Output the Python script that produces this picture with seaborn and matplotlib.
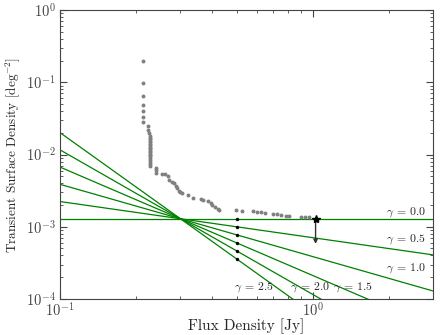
import seaborn as sns
import pandas as pd
import numpy as np
import matplotlib.pyplot as plt

# transient surface density limits
flux = [0.2135, 0.2135, 0.2135, 0.2135, 0.2135, 0.2135, 0.2135,
        0.224, 0.224, 0.225,
        0.227, 0.227, 0.227, 0.227, 0.227, 0.227, 0.227, 0.227, 0.227, 0.227,
        0.227, 0.227, 0.227, 0.227, 0.227, 0.227, 0.227, 0.227, 0.227, 0.227,
        0.240, 0.240, 0.240,
        0.2533, 0.261, 0.2667, 0.2707, 0.2775, 0.2816, 0.2878, 0.2912, 0.2958,
        0.2994, 0.304, 0.320, 0.3362, 0.3617, 0.3684, 0.3842, 0.3963, 0.401,
        0.4095, 0.4209, 0.4276, 0.4993, 0.5275, 0.5833, 0.605, 0.6275, 0.651,
        0.7003, 0.7261, 0.7534, 0.7815, 0.8104, 0.904, 0.9337, 0.964]
density = [0.196, 0.099, 0.0653, 0.049, 0.0395, 0.0327, 0.0278,
           0.0245, 0.0218, 0.0196,
           0.0178, 0.0170, 0.0162, 0.0155, 0.0148, 0.0141, 0.0135, 0.0129, 0.0123, 0.0118,
           0.0113, 0.0108, 0.0103, 0.0098, 0.0094, 0.0089, 0.0084, 0.0079, 0.0074, 0.0069,
           0.00659, 0.0061, 0.00562,
           0.00545, 0.00545, 0.0050, 0.0045, 0.00412, 0.00405, 0.0037, 0.0034, 0.00316,
           0.00299, 0.0029, 0.00278, 0.00253, 0.00239, 0.00237, 0.00224, 0.00215, 0.00202,
           0.0019, 0.00178, 0.00171, 0.00171, 0.00167, 0.00163, 0.0016, 0.00158, 0.00155,
           0.00152, 0.00149, 0.00147, 0.00142, 0.0014, 0.00138, 0.00138, 0.00138]

gammas = [0.0, 0.5, 1.0, 1.5, 2.0, 2.5]
pivot_flux = 0.3
pivot_density = 1.29e-3
line_ends = [0.1, 3.0]
dot_flux = 0.5

star_flux = 1.028
star_density = 1.3e-3
arrow_end = 5.3e-4

label_pos = {0.0: (2.34, 1.62e-3), 0.5: (2.34, 6.8e-4), 1.0: (2.34, 2.7e-4),
             1.5: (1.448, 1.47e-4), 2.0: (0.973, 1.47e-4), 2.5: (0.586, 1.47e-4)}

sns.set_style("ticks")
plt.rcParams['font.family'] = ['cmr10', 'DejaVu Serif']
plt.rcParams['mathtext.fontset'] = 'cm'
plt.rcParams['axes.formatter.use_mathtext'] = True
plt.rcParams['axes.unicode_minus'] = False

rows = []
for g in gammas:
    for x in line_ends:
        rows.append({'flux': x, 'density': pivot_density * (x / pivot_flux) ** (-g), 'gamma': g})
lines = pd.DataFrame(rows)
dots = pd.DataFrame({'flux': [dot_flux] * len(gammas),
                     'density': [pivot_density * (dot_flux / pivot_flux) ** (-g) for g in gammas]})
pts = pd.DataFrame({'flux': flux, 'density': density})

fig = plt.figure(figsize=(4.41, 3.35), dpi=100)
ax = fig.add_axes([0.136, 0.1075, 0.846, 0.8625])
ax.set_xscale('log')
ax.set_yscale('log')

sns.lineplot(data=lines, x='flux', y='density', units='gamma', estimator=None,
             color='green', lw=0.9, ax=ax)
sns.scatterplot(data=pts, x='flux', y='density', color='gray', s=8, linewidth=0, ax=ax, zorder=3)
sns.scatterplot(data=dots, x='flux', y='density', color='black', s=6, linewidth=0, ax=ax, zorder=4)
ax.plot([star_flux], [star_density], marker='*', color='black', ms=6, zorder=5)
ax.annotate('', xy=(star_flux, arrow_end), xytext=(star_flux, star_density),
            arrowprops=dict(arrowstyle='-|>', color='#333333', lw=1, mutation_scale=6))

for g in gammas:
    x, y = label_pos[g]
    ax.text(x, y, r'$\gamma$ = %.1f' % g, ha='center', va='center', fontsize=8.5)

ax.set_xlim(0.1, 3.0)
ax.set_ylim(1e-4, 1)
ax.set_xlabel('Flux Density [Jy]', fontsize=11, labelpad=-1)
ax.set_ylabel(r'Transient Surface Density [deg$^{-2}$]', fontsize=9.5, labelpad=3)
ax.tick_params(which='both', direction='in', top=True, right=True, colors='#444444',
               labelsize=10.5)
ax.tick_params(which='major', length=5, pad=3)
ax.tick_params(axis='x', which='major', pad=2)
ax.tick_params(which='minor', length=2.5)
for s in ax.spines.values():
    s.set_color('#444444')

plt.savefig('out.png', dpi=100)
